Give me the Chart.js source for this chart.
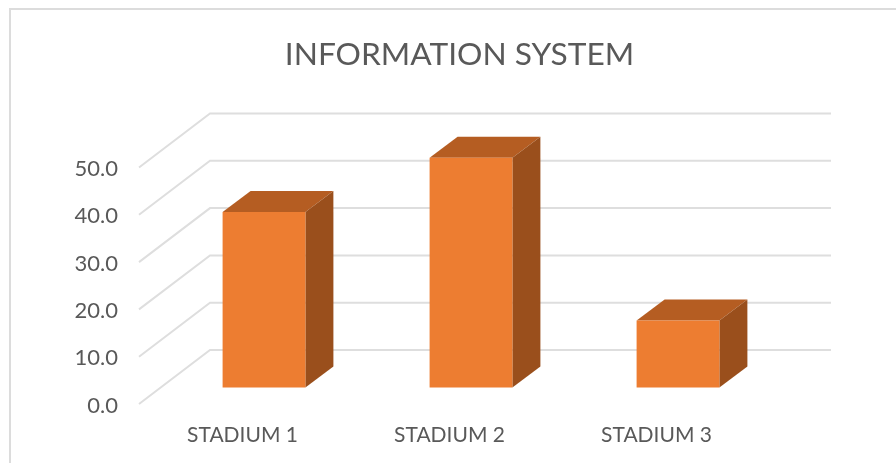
<!DOCTYPE html>
<html>
<head>
<meta charset="utf-8">
<title>Information system</title>
<script src="https://cdn.jsdelivr.net/npm/chart.js@4"></script>
<style>
  html, body { margin: 0; padding: 0; background: #fff; overflow: hidden; width: 896px; height: 463px; }
  #card { position: absolute; left: 9px; top: 8px; width: 1000px; height: 600px; border: 2px solid #dcdcdc; }
  #myChart { position: absolute; left: 0; top: 0; }
</style>
</head>
<body>
<div id="card"></div>
<canvas id="myChart" width="919" height="463"></canvas>
<script>
const categories = ['STADIUM 1', 'STADIUM 2', 'STADIUM 3'];
const values = [37.1, 48.6, 14.2];
const tickValues = [0, 10, 20, 30, 40, 50];

// px offsets of the fake 3d box
const floorDepth = { x: 71, y: 54 };
const barDepth = { x: 28, y: 21 };
const barShift = 21.5;
// axis labels hang a little below their gridline
const labelDrop = 1.5;

// draws gridlines on the floor/back wall, and the top and side of each bar
const box3d = {
    id: 'box3d',
    beforeDatasetsDraw(chart) {
        const c = chart.ctx;
        const y = chart.scales.y;
        const area = chart.chartArea;
        c.save();
        c.strokeStyle = '#dedede';
        c.lineWidth = 2;
        tickValues.forEach(function (v) {
            const py = y.getPixelForValue(v) - labelDrop;
            c.beginPath();
            c.moveTo(area.left, py);
            c.lineTo(area.left + floorDepth.x, py - floorDepth.y);
            c.lineTo(area.right + floorDepth.x, py - floorDepth.y);
            c.stroke();
        });
        chart.getDatasetMeta(0).data.forEach(function (bar) {
            const l = bar.x - bar.width / 2 + barShift;
            const r = bar.x + bar.width / 2 + barShift;
            c.fillStyle = '#b55d22';
            c.beginPath();
            c.moveTo(l, bar.y);
            c.lineTo(l + barDepth.x, bar.y - barDepth.y);
            c.lineTo(r + barDepth.x, bar.y - barDepth.y);
            c.lineTo(r, bar.y);
            c.closePath();
            c.fill();
            c.fillStyle = '#9a4f1c';
            c.beginPath();
            c.moveTo(r, bar.y);
            c.lineTo(r + barDepth.x, bar.y - barDepth.y);
            c.lineTo(r + barDepth.x, bar.base - barDepth.y);
            c.lineTo(r, bar.base);
            c.closePath();
            c.fill();
        });
        c.restore();
    },
    beforeDatasetDraw(chart) {
        chart.ctx.save();
        chart.ctx.translate(barShift, 0);
    },
    afterDatasetDraw(chart) {
        chart.ctx.restore();
    }
};

const ctx = document.getElementById('myChart');

new Chart(ctx, {
    type: 'bar',
    data: {
        labels: categories,
        datasets: [{
            data: values,
            yAxisID: 'yBars',
            backgroundColor: '#ed7d31',
            barPercentage: 0.4,
            categoryPercentage: 1
        }]
    },
    options: {
        responsive: false,
        animation: false,
        plugins: {
            legend: { display: false },
            tooltip: { enabled: false },
            title: {
                display: true,
                text: 'INFORMATION SYSTEM',
                color: '#595959',
                font: { family: 'Lato', size: 31.7, weight: 'normal', lineHeight: 1.2 },
                padding: { top: 35.4, bottom: 40.1 }
            }
        },
        scales: {
            x: {
                grid: { display: false },
                border: { display: false },
                ticks: {
                    color: '#595959',
                    font: { family: 'Lato', size: 21 },
                    padding: 4.5,
                    maxRotation: 0
                },
                afterFit(scale) { scale.height = 53; }
            },
            // the axis labels sit on the front edge of the floor
            y: {
                min: -0.951,
                max: 61.73,
                grid: { display: false },
                border: { display: false },
                ticks: {
                    color: '#595959',
                    font: { family: 'Lato', size: 22 },
                    padding: 13,
                    callback: function (v) { return Number(v).toFixed(1); }
                },
                afterBuildTicks(scale) {
                    scale.ticks = tickValues.map(function (v) { return { value: v }; });
                },
                afterFit(scale) { scale.width = 139; }
            },
            // same px per unit as y, but zero sits further back on the floor;
            // on the right it only reserves the empty space past the plot
            yBars: {
                position: 'right',
                min: -4.74,
                max: 57.94,
                grid: { display: false },
                border: { display: false },
                ticks: { display: false },
                afterFit(scale) { scale.width = 159; }
            }
        }
    },
    plugins: [box3d]
});
</script>
</body>
</html>
